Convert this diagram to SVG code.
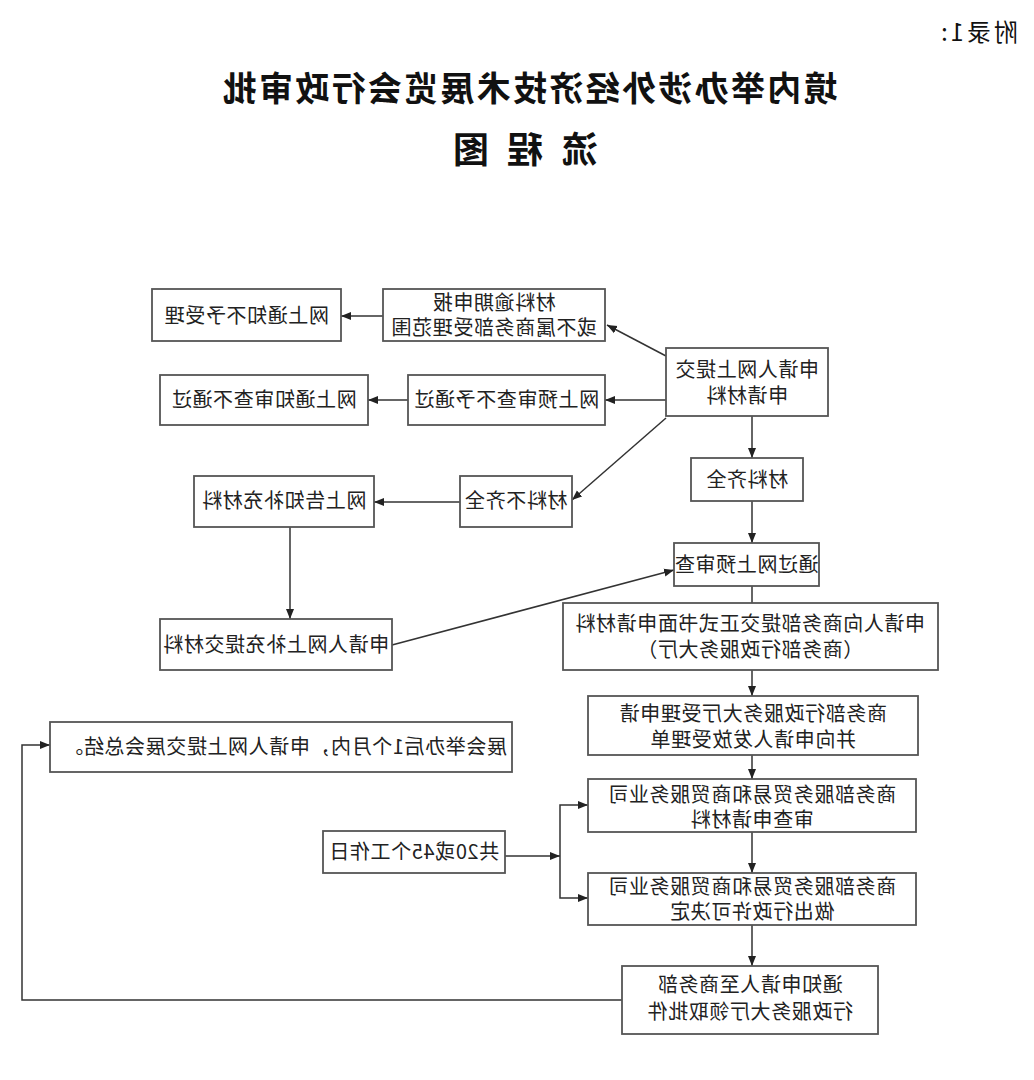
<svg xmlns="http://www.w3.org/2000/svg" width="1034" height="1080" viewBox="0 0 1034 1080">
<style>
.box{fill:#fff;stroke:#555;stroke-width:1.8}
.t{font-family:"Noto Sans CJK SC","Liberation Sans",sans-serif;font-size:20px;fill:#222;text-anchor:middle;letter-spacing:0.6px}
.title{font-family:"Noto Sans CJK SC","Liberation Sans",sans-serif;font-weight:bold;fill:#111}
.c{fill:none;stroke:#333;stroke-width:1.5}
</style>
<defs>
<marker id="ah" markerUnits="userSpaceOnUse" markerWidth="10" markerHeight="10" refX="10" refY="5" orient="auto">
<path d="M0,1 L10,5 L0,9 z" fill="#222"/>
</marker>
</defs>
<rect width="1034" height="1080" fill="#fff"/>
<g id="header">
<text class="title" x="1018" y="41" transform="matrix(-1 0 0 1 2036 0)" style="font-weight:normal;font-size:24px;letter-spacing:3px">附录1:</text>
<text class="title" x="529" y="101" transform="matrix(-1 0 0 1 1058 0)" style="font-size:34px;letter-spacing:2.3px;text-anchor:middle">境内举办涉外经济技术展览会行政审批</text>
<text class="title" x="473 528 582" y="163" transform="matrix(-1 0 0 1 1053 0)" style="font-size:36px;text-anchor:middle">流程图</text>
</g>
<g id="connectors">
<path class="c" d="M666,356 L607,325" marker-end="url(#ah)"/>
<path class="c" d="M383,316 L341,316" marker-end="url(#ah)"/>
<path class="c" d="M666,400 L605,400" marker-end="url(#ah)"/>
<path class="c" d="M408,400 L368,400" marker-end="url(#ah)"/>
<path class="c" d="M666,418 L572,500" marker-end="url(#ah)"/>
<path class="c" d="M460,502 L374,502" marker-end="url(#ah)"/>
<path class="c" d="M290,527 L290,619" marker-end="url(#ah)"/>
<path class="c" d="M392,645 L674,570" marker-end="url(#ah)"/>
<path class="c" d="M752,416 L752,458" marker-end="url(#ah)"/>
<path class="c" d="M752,501 L752,543" marker-end="url(#ah)"/>
<path class="c" d="M752,586 L752,603"/>
<path class="c" d="M752,670 L752,696" marker-end="url(#ah)"/>
<path class="c" d="M752,755 L752,779" marker-end="url(#ah)"/>
<path class="c" d="M752,832 L752,873" marker-end="url(#ah)"/>
<path class="c" d="M752,925 L752,966" marker-end="url(#ah)"/>
<path class="c" d="M505,856 L560,856" marker-end="url(#ah)"/>
<path class="c" d="M560,856 L560,805 L588,805" marker-end="url(#ah)"/>
<path class="c" d="M560,856 L560,898 L588,898" marker-end="url(#ah)"/>
<path class="c" d="M622,1000 L22,1000 L22,745 L50,745" marker-end="url(#ah)"/>
</g>
<g id="nodeA"><rect class="box" x="666" y="348" width="162" height="68"/>
<text class="t" transform="matrix(-1 0 0 1 1494 0)"><tspan x="747" y="377">申请人网上提交</tspan><tspan x="747" y="403">申请材料</tspan></text></g>
<g id="nodeB"><rect class="box" x="383" y="289" width="222" height="52"/>
<text class="t" transform="matrix(-1 0 0 1 988 0)"><tspan x="494" y="310">材料逾期申报</tspan><tspan x="494" y="335">或不属商务部受理范围</tspan></text></g>
<g id="nodeC"><rect class="box" x="152" y="289" width="189" height="52"/>
<text class="t" x="246.5" y="323" transform="matrix(-1 0 0 1 493 0)">网上通知不予受理</text></g>
<g id="nodeD"><rect class="box" x="408" y="375" width="197" height="50"/>
<text class="t" x="506.5" y="407" transform="matrix(-1 0 0 1 1013 0)">网上预审查不予通过</text></g>
<g id="nodeE"><rect class="box" x="160" y="375" width="208" height="50"/>
<text class="t" x="264" y="407" transform="matrix(-1 0 0 1 528 0)">网上通知审查不通过</text></g>
<g id="nodeF"><rect class="box" x="460" y="476" width="112" height="51"/>
<text class="t" x="516" y="508" transform="matrix(-1 0 0 1 1032 0)">材料不齐全</text></g>
<g id="nodeG"><rect class="box" x="194" y="476" width="180" height="51"/>
<text class="t" x="284" y="508" transform="matrix(-1 0 0 1 568 0)">网上告知补充材料</text></g>
<g id="nodeH"><rect class="box" x="160" y="619" width="232" height="51"/>
<text class="t" x="276" y="652" transform="matrix(-1 0 0 1 552 0)">申请人网上补充提交材料</text></g>
<g id="nodeI"><rect class="box" x="691" y="458" width="112" height="43"/>
<text class="t" x="747" y="487" transform="matrix(-1 0 0 1 1494 0)">材料齐全</text></g>
<g id="nodeJ"><rect class="box" x="674" y="543" width="145" height="43"/>
<text class="t" x="746.5" y="572" transform="matrix(-1 0 0 1 1493 0)">通过网上预审查</text></g>
<g id="nodeK"><rect class="box" x="563" y="603" width="375" height="67"/>
<text class="t" transform="matrix(-1 0 0 1 1500 0)"><tspan x="750" y="631">申请人向商务部提交正式书面申请材料</tspan><tspan x="750" y="657">（商务部行政服务大厅）</tspan></text></g>
<g id="nodeL"><rect class="box" x="588" y="696" width="330" height="59"/>
<text class="t" transform="matrix(-1 0 0 1 1506 0)"><tspan x="753" y="721">商务部行政服务大厅受理申请</tspan><tspan x="753" y="747">并向申请人发放受理单</tspan></text></g>
<g id="nodeM"><rect class="box" x="50" y="722" width="462" height="50"/>
<text class="t" x="507" y="754" transform="matrix(-1 0 0 1 1014 0)" style="text-anchor:start">展会举办后1个月内，申请人网上提交展会总结。</text></g>
<g id="nodeN"><rect class="box" x="588" y="779" width="328" height="53"/>
<text class="t" transform="matrix(-1 0 0 1 1504 0)"><tspan x="752" y="802">商务部服务贸易和商贸服务业司</tspan><tspan x="752" y="827">审查申请材料</tspan></text></g>
<g id="nodeO"><rect class="box" x="323" y="831" width="182" height="42"/>
<text class="t" x="414" y="859" transform="matrix(-1 0 0 1 828 0)">共20或45个工作日</text></g>
<g id="nodeP"><rect class="box" x="588" y="873" width="328" height="52"/>
<text class="t" transform="matrix(-1 0 0 1 1504 0)"><tspan x="752" y="894">商务部服务贸易和商贸服务业司</tspan><tspan x="752" y="919">做出行政许可决定</tspan></text></g>
<g id="nodeQ"><rect class="box" x="622" y="966" width="256" height="68"/>
<text class="t" transform="matrix(-1 0 0 1 1500 0)"><tspan x="750" y="992">通知申请人至商务部</tspan><tspan x="750" y="1019">行政服务大厅领取批件</tspan></text></g>
</svg>
